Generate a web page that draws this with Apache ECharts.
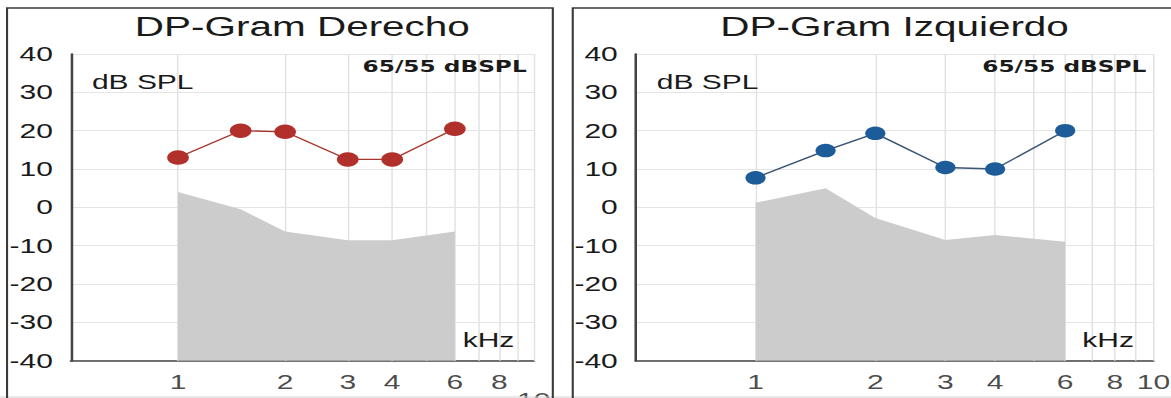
<!DOCTYPE html>
<html>
<head>
<meta charset="utf-8">
<script src="https://cdn.jsdelivr.net/npm/echarts@6/dist/echarts.min.js"></script>
<style>
  html, body { margin: 0; padding: 0; background: #fff; overflow: hidden; }
  #wrap { width: 1171px; height: 398px; overflow: hidden; position: relative; }
  /* the chart is laid out narrower and widened horizontally */
  #chart { width: 781px; height: 398px; transform: scaleX(1.49936); transform-origin: 0 0; }
</style>
</head>
<body>
<div id="wrap"><div id="chart"></div></div>
<script>
// test frequencies (kHz)
const freqs = [1, 1.5, 2, 3, 4, 6];
// right ear: DP level and noise floor (dB SPL)
const derechoDP = [13, 20, 19.7, 12.5, 12.5, 20.5];
const derechoNoise = [4, -0.5, -6.3, -8.6, -8.6, -6.3];
// left ear: DP level and noise floor (dB SPL)
const izquierdoDP = [7.7, 14.8, 19.3, 10.4, 10, 20];
const izquierdoNoise = [1.2, 5, -2.8, -8.5, -7.2, -9];
// frequency axis labels and grid lines (kHz)
const freqLabels = [1, 2, 3, 4, 6, 8, 10];
const freqGrid = [1, 2, 3, 4, 5, 6, 7, 8, 9, 10];
// level axis (dB SPL)
const levelMin = -40, levelMax = 40, levelStep = 10;
const freqMin = 0.5, freqMax = 10;

const titles = ['DP-Gram Derecho', 'DP-Gram Izquierdo'];
const stimulusNote = '65/55 dBSPL';
const unitY = 'dB SPL';
const unitX = 'kHz';

const panels = [
  { title: titles[0], dp: derechoDP, noise: derechoNoise,
    dot: '#b1302b', line: '#a9352f', dotSize: 14.5,
    left: 47.3, width: 308.7, frameX: 4.7, frameW: 364, lowLast: true },
  { title: titles[1], dp: izquierdoDP, noise: izquierdoNoise,
    dot: '#1d5c98', line: '#3b5572', dotSize: 13.5,
    left: 424, width: 345.3, frameX: 382, frameW: 420, lowLast: false }
];
const TOP = 54, HEIGHT = 306.7;
const textFont = '"Liberation Sans", Arial, sans-serif';

const grids = [], xAxes = [], yAxes = [], series = [], graphics = [];

panels.forEach((p, i) => {
  grids.push({ left: p.left, top: TOP, width: p.width, height: HEIGHT, containLabel: false });
  xAxes.push({
    type: 'log', logBase: 10, min: freqMin, max: freqMax, gridIndex: i,
    axisLine: { show: true, onZero: false, lineStyle: { color: '#444444', width: 1.7 } },
    axisTick: { show: false }, axisLabel: { show: false }, splitLine: { show: false }
  });
  yAxes.push({
    type: 'value', min: levelMin, max: levelMax, interval: levelStep, gridIndex: i,
    axisLine: { show: true, lineStyle: { color: '#444444', width: 1.7 } },
    axisTick: { show: false },
    axisLabel: { color: '#1a1a1a', fontSize: 20, fontFamily: textFont, margin: 12 },
    splitLine: { show: true, lineStyle: { color: '#e4e4e4', width: 1 } }
  });

  // frequency labels under the axis, plus the vertical frequency grid
  series.push({
    type: 'scatter', xAxisIndex: i, yAxisIndex: i, z: 1, silent: true,
    symbolSize: 1, itemStyle: { color: 'rgba(0,0,0,0)' },
    data: freqLabels.map(f => {
      const item = { value: [f, levelMin] };
      if (p.lowLast && f === freqLabels[freqLabels.length - 1]) item.label = { distance: 29 };
      return item;
    }),
    label: {
      show: true, position: 'bottom', distance: 11,
      color: '#1a1a1a', fontSize: 20, fontFamily: textFont,
      formatter: d => String(d.value[0])
    },
    markLine: {
      silent: true, symbol: 'none', z: 1, animation: false,
      label: { show: false },
      lineStyle: { color: '#e2e2e2', width: 1, type: 'solid' },
      data: freqGrid.map(f => ({ xAxis: f }))
    }
  });

  // noise floor
  series.push({
    type: 'line', xAxisIndex: i, yAxisIndex: i, z: 2, silent: true,
    symbol: 'none', lineStyle: { width: 0 },
    areaStyle: { color: '#cccccc', opacity: 1, origin: 'start' },
    data: freqs.map((f, j) => [f, p.noise[j]])
  });

  // DP amplitudes
  series.push({
    type: 'line', xAxisIndex: i, yAxisIndex: i, z: 3,
    symbol: 'circle', symbolSize: p.dotSize,
    itemStyle: { color: p.dot },
    lineStyle: { color: p.line, width: 1.3 },
    data: freqs.map((f, j) => [f, p.dp[j]])
  });

  const right = p.left + p.width;
  graphics.push(
    { type: 'rect', shape: { x: p.frameX, y: 8, width: p.frameW, height: 420 },
      style: { fill: 'none', stroke: '#3a3a3a', lineWidth: 1.4 }, z: 10 },
    { type: 'text', x: p.left + p.width / 2, y: 27, z: 10,
      style: { text: p.title, font: '27px ' + textFont, fill: '#1a1a1a',
               align: 'center', verticalAlign: 'middle', textAlign: 'center', textVerticalAlign: 'middle' } },
    { type: 'text', x: right - 4.7, y: 67, z: 10,
      style: { text: stimulusNote, font: 'bold 15.5px "DejaVu Sans", Verdana, sans-serif', fill: '#1a1a1a',
               align: 'right', verticalAlign: 'middle', textAlign: 'right', textVerticalAlign: 'middle' } },
    { type: 'text', x: p.left + 14, y: 82, z: 10,
      style: { text: unitY, font: '20px ' + textFont, fill: '#1a1a1a',
               align: 'left', verticalAlign: 'middle', textAlign: 'left', textVerticalAlign: 'middle' } },
    { type: 'text', x: right - 13, y: 340, z: 10,
      style: { text: unitX, font: '20px ' + textFont, fill: '#1a1a1a',
               align: 'right', verticalAlign: 'middle', textAlign: 'right', textVerticalAlign: 'middle' } }
  );
});

// faint edge line along the bottom
graphics.push({ type: 'line', shape: { x1: 0, y1: 397, x2: 781, y2: 397 },
  style: { stroke: '#d2d2d2', lineWidth: 1.2 }, z: 9 });

const chart = echarts.init(document.getElementById('chart'), null, { renderer: 'svg' });
chart.setOption({
  animation: false,
  backgroundColor: '#ffffff',
  grid: grids,
  xAxis: xAxes,
  yAxis: yAxes,
  series: series,
  graphic: graphics
});
</script>
</body>
</html>
